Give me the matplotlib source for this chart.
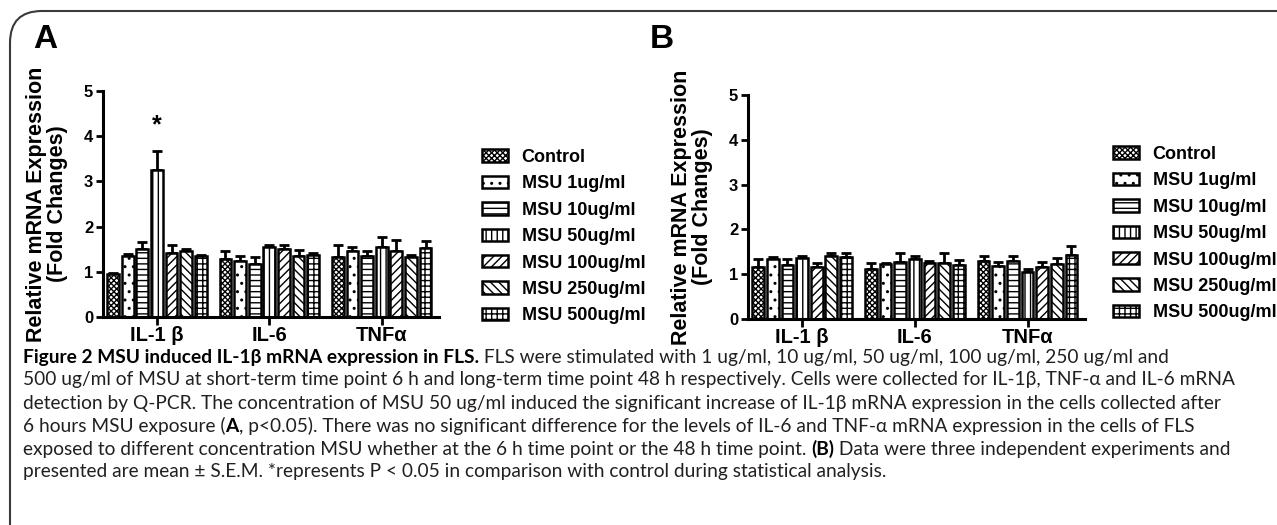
import numpy as np
import matplotlib
matplotlib.use("Agg")
import matplotlib.pyplot as plt
from matplotlib.patches import FancyBboxPatch

# ---------------- data ----------------
groups = ["IL-1 β", "IL-6", "TNFα"]
series = ["Control", "MSU 1ug/ml", "MSU 10ug/ml", "MSU 50ug/ml",
          "MSU 100ug/ml", "MSU 250ug/ml", "MSU 500ug/ml"]
hatches = ["xxxxxx", "..", "---", "|||", "////", "\\\\\\\\", "+++"]

# Panel A (6 h)
a_control = [0.95, 1.28, 1.33]
a_msu1 = [1.35, 1.25, 1.45]
a_msu10 = [1.50, 1.18, 1.35]
a_msu50 = [3.25, 1.55, 1.55]
a_msu100 = [1.42, 1.50, 1.45]
a_msu250 = [1.45, 1.35, 1.32]
a_msu500 = [1.35, 1.37, 1.52]
a_err_control = [0.02, 0.19, 0.27]
a_err_msu1 = [0.05, 0.10, 0.10]
a_err_msu10 = [0.17, 0.14, 0.10]
a_err_msu50 = [0.43, 0.05, 0.22]
a_err_msu100 = [0.17, 0.10, 0.25]
a_err_msu250 = [0.05, 0.14, 0.05]
a_err_msu500 = [0.03, 0.05, 0.17]

# Panel B (48 h)
b_control = [1.15, 1.12, 1.30]
b_msu1 = [1.35, 1.22, 1.18]
b_msu10 = [1.20, 1.28, 1.30]
b_msu50 = [1.36, 1.35, 1.05]
b_msu100 = [1.15, 1.25, 1.15]
b_msu250 = [1.40, 1.25, 1.22]
b_msu500 = [1.38, 1.20, 1.43]
b_err_control = [0.20, 0.13, 0.10]
b_err_msu1 = [0.04, 0.03, 0.10]
b_err_msu10 = [0.15, 0.20, 0.10]
b_err_msu50 = [0.05, 0.05, 0.07]
b_err_msu100 = [0.10, 0.05, 0.12]
b_err_msu250 = [0.07, 0.22, 0.15]
b_err_msu500 = [0.10, 0.12, 0.20]

a_values = [a_control, a_msu1, a_msu10, a_msu50, a_msu100, a_msu250, a_msu500]
a_errors = [a_err_control, a_err_msu1, a_err_msu10, a_err_msu50,
            a_err_msu100, a_err_msu250, a_err_msu500]
b_values = [b_control, b_msu1, b_msu10, b_msu50, b_msu100, b_msu250, b_msu500]
b_errors = [b_err_control, b_err_msu1, b_err_msu10, b_err_msu50,
            b_err_msu100, b_err_msu250, b_err_msu500]

yticks = [0, 1, 2, 3, 4, 5]
ylabel = "Relative mRNA Expression\n(Fold Changes)"

caption_lines = [
    ("Figure 2 MSU induced IL-1β mRNA expression in FLS.", " FLS were stimulated with 1 ug/ml, 10 ug/ml, 50 ug/ml, 100 ug/ml, 250 ug/ml and"),
    ("", "500 ug/ml of MSU at short-term time point 6 h and long-term time point 48 h respectively. Cells were collected for IL-1β, TNF-α and IL-6 mRNA"),
    ("", "detection by Q-PCR. The concentration of MSU 50 ug/ml induced the significant increase of IL-1β mRNA expression in the cells collected after"),
    ("", "6 hours MSU exposure (|A|, p<0.05). There was no significant difference for the levels of IL-6 and TNF-α mRNA expression in the cells of FLS"),
    ("", "exposed to different concentration MSU whether at the 6 h time point or the 48 h time point. |(B)| Data were three independent experiments and"),
    ("", "presented are mean ± S.E.M. *represents P < 0.05 in comparison with control during statistical analysis."),
]

# ---------------- figure ----------------
W, H = 1277, 525
plt.rcParams["font.family"] = ["Liberation Sans", "DejaVu Sans"]
plt.rcParams["hatch.linewidth"] = 1.0
fig = plt.figure(figsize=(W / 100, H / 100), dpi=100)

def fx(x):
    return x / W

def fy(y):
    return 1 - y / H

# rounded frame
frame = FancyBboxPatch((fx(10), fy(600)), fx(1400), fy(11) - fy(600),
                       boxstyle="round,pad=0,rounding_size=0.025",
                       transform=fig.transFigure, fill=False,
                       edgecolor="#3a3a3a", linewidth=1.5, clip_on=False,
                       mutation_aspect=W / H)
fig.patches.append(frame)

bar_pitch = 0.13
bar_width = 0.105
n = len(series)
xg = np.arange(len(groups))


def draw_panel(left_px, bottom_px, top_px, right_px, values, errors,
               letter, letter_xy, ylabel_x, legend_xy, star=None):
    ax = fig.add_axes([fx(left_px), fy(bottom_px),
                       fx(right_px - left_px), (bottom_px - top_px) / H])
    handles = []
    for i in range(n):
        xs = xg + (i - 3) * bar_pitch
        ax.errorbar(xs, values[i], yerr=[np.zeros(len(groups)), errors[i]],
                    fmt="none", ecolor="black", elinewidth=2.0,
                    capsize=3.5, capthick=2.0, zorder=1)
        b = ax.bar(xs, values[i], width=bar_width, color="white",
                   edgecolor="black", linewidth=1.8, hatch=hatches[i],
                   label=series[i], zorder=2)
        handles.append(b)
    ax.set_xlim(-0.48, 2.51)
    ax.set_ylim(0, 5)
    ax.set_yticks(yticks)
    ax.set_xticks(xg)
    ax.set_xticklabels(groups, fontsize=14.5, fontweight="bold")
    for lab in ax.get_yticklabels():
        lab.set_fontsize(12)
        lab.set_fontweight("bold")
    ax.tick_params(axis="y", length=5, width=2, pad=2)
    ax.tick_params(axis="x", length=6, width=2, pad=0.5)
    for s in ["top", "right"]:
        ax.spines[s].set_visible(False)
    for s in ["left", "bottom"]:
        ax.spines[s].set_linewidth(2.2)
    ax.patch.set_alpha(0)
    fig.text(fx(ylabel_x), fy((bottom_px + top_px) / 2), ylabel,
             rotation=90, ha="center", va="center", fontsize=15.5,
             fontweight="bold", linespacing=1.05)
    fig.text(fx(letter_xy[0]), fy(letter_xy[1]), letter, fontsize=24,
             fontweight="bold", ha="left", va="center")
    if star is not None:
        gi, si, yv = star
        ax.text(xg[gi] + (si - 3) * bar_pitch, yv, "*", ha="center",
                va="center", fontsize=18, fontweight="bold")
    leg = fig.legend(handles=handles, labels=series, loc="upper left",
                     bbox_to_anchor=(fx(legend_xy[0]), fy(legend_xy[1])),
                     bbox_transform=fig.transFigure, frameon=False,
                     prop={"size": 13, "weight": "bold"},
                     handlelength=1.45, handleheight=0.68,
                     handletextpad=0.75, labelspacing=0.52,
                     borderpad=0, borderaxespad=0)
    for p in leg.get_patches():
        p.set_linewidth(1.8)
    return ax


draw_panel(103, 317, 91, 439, a_values, a_errors, "A", (33, 40), 47,
           (482, 149), star=(0, 3, 4.25))
draw_panel(748, 319, 95, 1085, b_values, b_errors, "B", (650, 40), 692,
           (1113, 146))

# caption
cap_font = ["Lato", "DejaVu Sans"]
cap_color = "#231f20"
fig.canvas.draw()
renderer = fig.canvas.get_renderer()

# font size so that line 2 spans the target width
target = 1236 - 23
probe = fig.text(0, 0, caption_lines[1][1], fontsize=10, family=cap_font)
wp = probe.get_window_extent(renderer).width
probe.remove()
cap_size = 10 * target / wp

y0 = 357
dy = 23
for k, (bold, rest) in enumerate(caption_lines):
    x = 23
    y = y0 + k * dy
    segments = []
    if bold:
        segments.append((bold, True))
    parts = rest.split("|")
    for j, p in enumerate(parts):
        if p:
            segments.append((p, j % 2 == 1))
    for txt, isb in segments:
        t = fig.text(fx(x), fy(y), txt, fontsize=cap_size, family=cap_font,
                     fontweight="bold" if isb else "normal",
                     color="black" if isb else cap_color,
                     ha="left", va="center")
        ext = t.get_window_extent(renderer)
        x += ext.width

fig.savefig("out.png", dpi=100)
